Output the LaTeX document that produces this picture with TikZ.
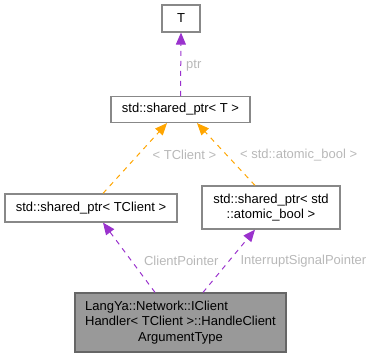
\documentclass[tikz,border=0pt]{standalone}
\usepackage{fontspec}
\setmainfont{Liberation Sans}
\usetikzlibrary{arrows.meta}
\definecolor{relpurple}{HTML}{9A32CD}
\definecolor{tmplorange}{HTML}{FFA500}
\definecolor{lblgray}{HTML}{B8B8B8}
\definecolor{boxgray}{HTML}{888888}
\begin{document}
\begin{tikzpicture}[x=1pt,y=-1pt,
  every node/.style={font=\fontsize{13}{15.5}\selectfont},
  cls/.style={draw=boxgray,line width=1.2pt,fill=white,inner sep=0pt},
  curcls/.style={draw=black!60,line width=1.2pt,fill=black!40,inner sep=0pt},
  usage/.style={relpurple,line width=1pt,dash pattern=on 5pt off 5pt,
    -{Triangle[length=12pt,width=10pt]}},
  tmpl/.style={tmplorange,line width=1pt,dash pattern=on 5pt off 5pt,
    -{Triangle[length=12pt,width=10pt]}},
  lbl/.style={text=lblgray,inner sep=1pt,anchor=west}]
\useasboundingbox (0,0) rectangle (369,357);
% class boxes
\node[cls,minimum width=38pt,minimum height=27pt] (T) at (181,18.5) {T};
\node[cls,minimum width=139pt,minimum height=26pt] (spT) at (180.5,109.5) {std::shared\_ptr< T >};
\node[cls,minimum width=172pt,minimum height=28pt] (spClient) at (91,208) {std::shared\_ptr< TClient >};
\node[cls,minimum width=138pt,minimum height=43pt,align=center] (spBool) at (271,207.5)
  {std::shared\_ptr< std\\::atomic\_bool >};
\node[curcls,minimum width=211pt,minimum height=59pt] (arg) at (180.5,322.5)
  {\begin{tabular}{@{}l@{}}LangYa::Network::IClient\\Handler< TClient >::HandleClient\\
   \multicolumn{1}{@{}c@{}}{ArgumentType}\end{tabular}};
% relations
\draw[usage] (spT.north) -- node[lbl,pos=0.48,xshift=4pt]{ptr} (T.south);
\draw[tmpl] ([xshift=12pt]spClient.north) -- node[lbl,pos=0.55,xshift=13pt]{< TClient >} ([xshift=-13.5pt]spT.south);
\draw[tmpl] ([xshift=-16pt]spBool.north) -- node[lbl,pos=0.49,xshift=12pt]{< std::atomic\_bool >} ([xshift=16.5pt]spT.south);
\draw[usage] ([xshift=-25.5pt]arg.north) -- node[lbl,pos=0.45,xshift=11pt]{ClientPointer} ([xshift=12pt]spClient.south);
\draw[usage] ([xshift=22.5pt]arg.north) -- node[lbl,pos=0.5,xshift=10pt]{InterruptSignalPointer} ([xshift=-16pt]spBool.south);
\end{tikzpicture}
\end{document}
